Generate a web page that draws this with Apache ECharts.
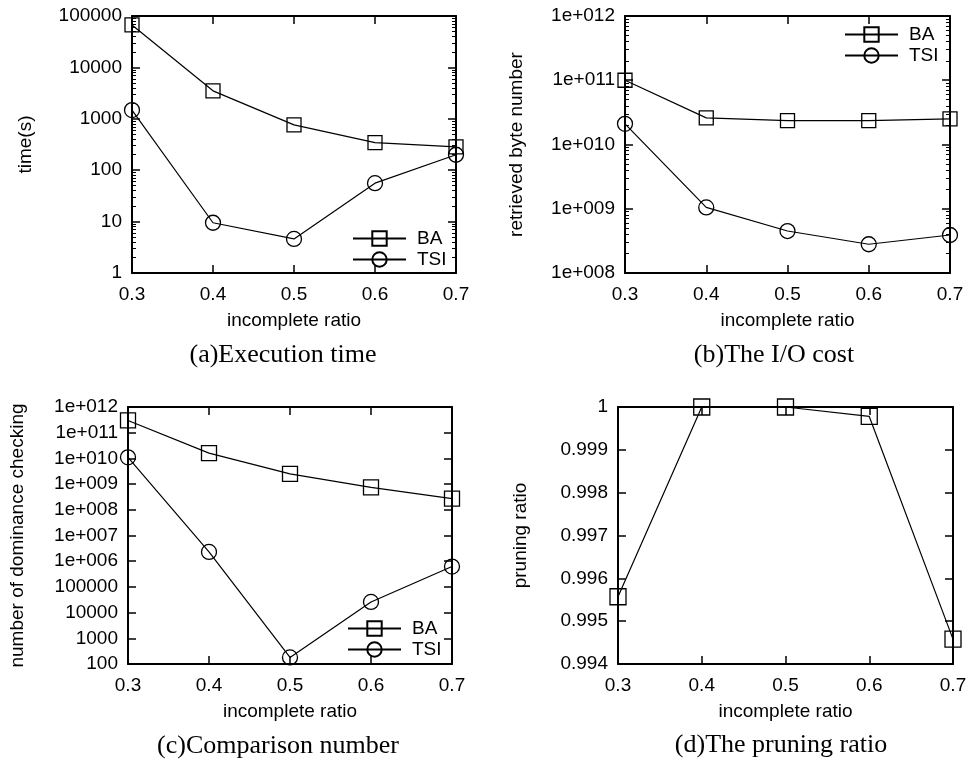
<!DOCTYPE html>
<html>
<head>
<meta charset="utf-8">
<script src="https://cdn.jsdelivr.net/npm/echarts@6/dist/echarts.min.js"></script>
<style>html,body{margin:0;padding:0;background:#fff}#c{width:977px;height:762px}</style>
</head>
<body>
<div id="c"></div>
<script>
// ---- data ----
const categories = ['0.3', '0.4', '0.5', '0.6', '0.7'];
const timeBA  = [67000, 3500, 760, 345, 285];
const timeTSI = [1480, 9.5, 4.6, 56, 200];
const ioBA  = [1.0e11, 2.6e10, 2.35e10, 2.35e10, 2.5e10];
const ioTSI = [2.1e10, 1.05e9, 4.5e8, 2.8e8, 3.9e8];
const cmpBA  = [3e11, 1.6e10, 2.5e9, 7.4e8, 2.7e8];
const cmpTSI = [1.1e10, 2.3e6, 180, 26000, 620000];
const pruneRatio = [0.99557, 1.0, 1.0, 0.99978, 0.99458];

const timeTicks = ['1', '10', '100', '1000', '10000', '100000'];
const ioTicks = ['1e+008', '1e+009', '1e+010', '1e+011', '1e+012'];
const cmpTicks = ['100', '1000', '10000', '100000', '1e+006', '1e+007', '1e+008', '1e+009', '1e+010', '1e+011', '1e+012'];
const pruneTicks = ['0.994', '0.995', '0.996', '0.997', '0.998', '0.999', '1'];

const captions = ['(a)Execution time', '(b)The I/O cost', '(c)Comparison number', '(d)The pruning ratio'];
const xName = 'incomplete ratio';
const yNames = ['time(s)', 'retrieved byte number', 'number of dominance checking', 'pruning ratio'];

// ---- styling ----
const SANS = 'Liberation Sans';
const SERIF = 'Liberation Serif';
const FS = 19;
const BLACK = '#000';

const grids = [
  { left: 132, top: 16, width: 324, height: 257 },
  { left: 625, top: 16, width: 325, height: 257 },
  { left: 128, top: 407, width: 324, height: 257 },
  { left: 618, top: 407, width: 335, height: 257 }
];

function logFmt(ticks, minExp) {
  return function (v) { return ticks[Math.round(Math.log10(v)) - minExp] || ''; };
}
function linFmt(ticks, min, step) {
  return function (v) { return ticks[Math.round((v - min) / step)] || ''; };
}

const xAxes = [];
const yAxes = [];
const yCfg = [
  { type: 'log', min: 1, max: 1e5, fmt: logFmt(timeTicks, 0), gap: 97, minor: true },
  { type: 'log', min: 1e8, max: 1e12, fmt: logFmt(ioTicks, 8), gap: 99, minor: true },
  { type: 'log', min: 100, max: 1e12, fmt: logFmt(cmpTicks, 2), gap: 101, minor: false },
  { type: 'value', min: 0.994, max: 1, interval: 0.001, fmt: linFmt(pruneTicks, 0.994, 0.001), gap: 88, minor: false }
];

grids.forEach(function (g, i) {
  const axisLine = { show: true, onZero: false, lineStyle: { color: BLACK, width: 2 } };
  const tick = { show: true, inside: true, length: 8, lineStyle: { color: BLACK, width: 1.5 } };
  xAxes.push({
    gridIndex: i, type: 'category', data: categories, boundaryGap: false, position: 'bottom',
    axisLine: axisLine, axisTick: Object.assign({ alignWithLabel: true, interval: 0 }, tick),
    axisLabel: { show: true, interval: 0, margin: 12, color: BLACK, fontFamily: SANS, fontSize: FS },
    name: xName, nameLocation: 'middle', nameGap: 38,
    nameTextStyle: { color: BLACK, fontFamily: SANS, fontSize: FS },
    splitLine: { show: false }
  });
  xAxes.push({
    gridIndex: i, type: 'category', data: categories, boundaryGap: false, position: 'top',
    axisLine: axisLine, axisTick: Object.assign({ interval: 0 }, tick),
    axisLabel: { show: false }, splitLine: { show: false }
  });
  const c = yCfg[i];
  const base = { gridIndex: i, type: c.type, min: c.min, max: c.max, splitLine: { show: false } };
  if (c.type === 'log') { base.logBase = 10; base.interval = 1; } else { base.interval = c.interval; }
  const minor = c.minor ? { show: true, splitNumber: 9, length: 4, lineStyle: { color: BLACK, width: 1 } } : { show: false };
  yAxes.push(Object.assign({}, base, {
    position: 'left', axisLine: axisLine, axisTick: tick, minorTick: minor,
    axisLabel: { show: true, margin: 10, color: BLACK, fontFamily: SANS, fontSize: FS, formatter: c.fmt, showMinLabel: true, showMaxLabel: true },
    name: yNames[i], nameLocation: 'middle', nameGap: c.gap, nameRotate: 90,
    nameTextStyle: { color: BLACK, fontFamily: SANS, fontSize: FS }
  }));
  yAxes.push(Object.assign({}, base, {
    position: 'right', axisLine: axisLine, axisTick: tick, minorTick: minor,
    axisLabel: { show: false }
  }));
});

function mkSeries(name, data, gi, symbol, size) {
  return {
    name: name, type: 'line', data: data, xAxisIndex: gi * 2, yAxisIndex: gi * 2,
    symbol: symbol, symbolSize: size, showSymbol: true, clip: false,
    itemStyle: { color: 'rgba(0,0,0,0)', borderColor: BLACK, borderWidth: 1.3 },
    lineStyle: { color: BLACK, width: 1.2 },
    emphasis: { disabled: true }, silent: true
  };
}

const series = [
  mkSeries('BA', timeBA, 0, 'rect', 14),
  mkSeries('TSI', timeTSI, 0, 'circle', 15),
  mkSeries('BA', ioBA, 1, 'rect', 14),
  mkSeries('TSI', ioTSI, 1, 'circle', 15),
  mkSeries('BA', cmpBA, 2, 'rect', 15),
  mkSeries('TSI', cmpTSI, 2, 'circle', 15),
  mkSeries('pruning', pruneRatio, 3, 'rect', 16)
];

function mkLegend(left, top) {
  return {
    data: ['BA', 'TSI'], orient: 'vertical', left: left, top: top,
    itemWidth: 53, itemHeight: 18, itemGap: 2, selectedMode: false,
    textStyle: { color: BLACK, fontFamily: SANS, fontSize: FS, padding: [0, 0, 0, 6] }
  };
}

const capPos = [[283, 355], [774, 355], [278, 746], [781, 745]];
const graphics = captions.map(function (t, i) {
  return {
    type: 'text', x: capPos[i][0], y: capPos[i][1],
    style: { text: t, fill: BLACK, font: '26px "' + SERIF + '"', textAlign: 'center', textVerticalAlign: 'middle' }
  };
});

const chart = echarts.init(document.getElementById('c'));
chart.setOption({
  animation: false,
  backgroundColor: '#fff',
  grid: grids,
  xAxis: xAxes,
  yAxis: yAxes,
  legend: [mkLegend(347, 224), mkLegend(839, 20), mkLegend(342, 614)],
  series: series,
  graphic: graphics
});
</script>
</body>
</html>
